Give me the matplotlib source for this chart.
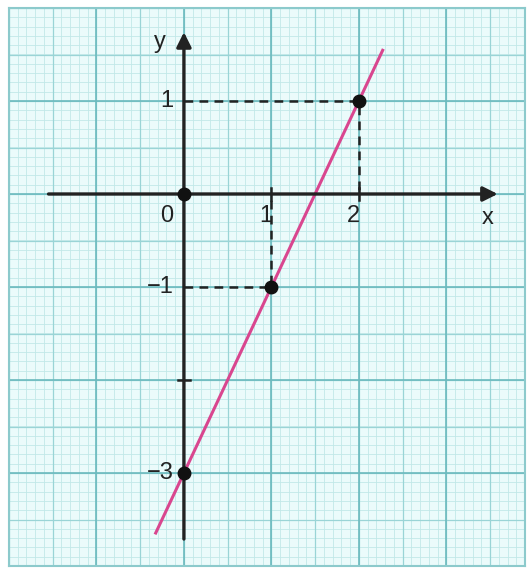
import numpy as np
import matplotlib.pyplot as plt

# points marked on the line y = 2x - 3
px = [0, 1, 2, 0]
py = [0, -1, 1, -3]
# ends of the drawn line
line_x = [-0.33, 2.28]
line_y = [-3.66, 1.56]
# axis labels
xtick_vals = [1, 2]
xtick_labels = ['1', '2']
ytick_vals = [1, -1, -3]
ytick_labels = ['1', '\u22121', '\u22123']

plt.rcParams['font.family'] = ['Liberation Sans', 'DejaVu Sans']

fig = plt.figure(figsize=(5.28, 5.69), dpi=100, facecolor='white')
ax = fig.add_axes([9/528, 3/569, 516/528, 558/569])
ax.set_xlim(-2, 3.9)
ax.set_ylim(-4, 2)
ax.set_facecolor('#ebfbfb')

# graph paper
for v in np.arange(-2, 3.95, 0.1):
    ax.axvline(v, color='#c2e8e8', lw=0.6, zorder=0)
for v in np.arange(-4, 2.05, 0.1):
    ax.axhline(v, color='#c2e8e8', lw=0.6, zorder=0)
for v in np.arange(-2, 3.95, 0.5):
    ax.axvline(v, color='#9ad4d6', lw=0.9, zorder=0)
for v in np.arange(-4, 2.05, 0.5):
    ax.axhline(v, color='#9ad4d6', lw=0.9, zorder=0)
for v in np.arange(-2, 3.95, 1):
    ax.axvline(v, color='#6cbabe', lw=1.2, zorder=0)
for v in np.arange(-4, 2.05, 1):
    ax.axhline(v, color='#6cbabe', lw=1.2, zorder=0)

for s in ax.spines.values():
    s.set_color('#8ccacc')
    s.set_linewidth(1.5)
ax.set_xticks([])
ax.set_yticks([])

# axes with arrows
ax.annotate('', xy=(3.62, 0), xytext=(-1.58, 0),
            arrowprops=dict(arrowstyle='-|>', color='#222222', lw=2.4,
                            mutation_scale=22))
ax.annotate('', xy=(0, 1.77), xytext=(0, -3.74),
            arrowprops=dict(arrowstyle='-|>', color='#222222', lw=2.4,
                            mutation_scale=22))

# small ticks
for v in xtick_vals:
    ax.plot([v, v], [-0.06, 0.06], color='#222222', lw=1.8)
ax.plot([-0.07, 0.07], [-2, -2], color='#222222', lw=1.8)

# dashed helper lines
ax.plot([0, 2, 2], [1, 1, 0], color='#222222', lw=1.8, ls=(0, (3.5, 2.5)))
ax.plot([0, 1, 1], [-1, -1, 0], color='#222222', lw=1.8, ls=(0, (3.5, 2.5)))

# the line
ax.plot(line_x, line_y, color='#d9468f', lw=2.2, solid_capstyle='butt')
ax.plot(px, py, 'o', color='#111111', ms=9, zorder=5)

fs = 17
tc = '#222222'
ax.text(-0.2, -0.24, '0', fontsize=fs, ha='center', va='center', color=tc)
for v, t in zip(xtick_vals, xtick_labels):
    ax.text(v - 0.06, -0.24, t, fontsize=fs, ha='center', va='center', color=tc)
for v, t in zip(ytick_vals, ytick_labels):
    ax.text(-0.12, v, t, fontsize=fs, ha='right', va='center', color=tc)
ax.text(3.47, -0.26, 'x', fontsize=fs, ha='center', va='center', color=tc)
ax.text(-0.27, 1.63, 'y', fontsize=fs, ha='center', va='center', color=tc)

plt.savefig('out.png', dpi=100, facecolor='white')
